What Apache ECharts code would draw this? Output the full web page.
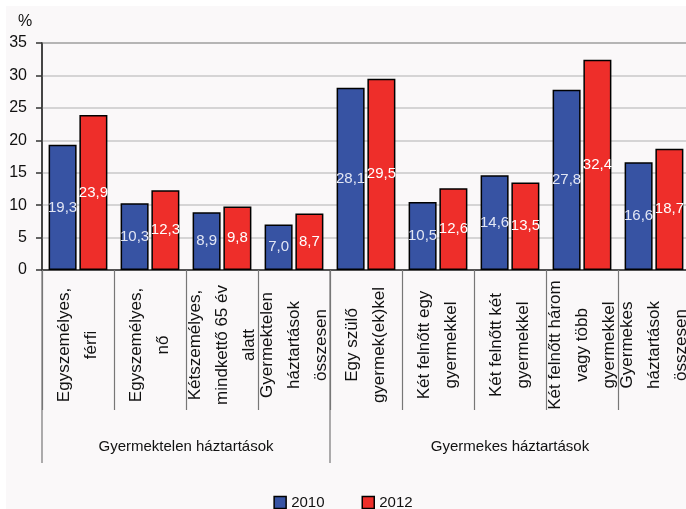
<!DOCTYPE html>
<html>
<head>
<meta charset="utf-8">
<script src="https://cdn.jsdelivr.net/npm/echarts@6/dist/echarts.min.js"></script>
<style>html,body{margin:0;padding:0;background:#fff;}#c{width:686px;height:509px;}</style>
</head>
<body>
<div id="c"></div>
<script>
var categories = [
  'Egyszemélyes,\nférfi',
  'Egyszemélyes,\nnő',
  'Kétszemélyes,\nmindkettő 65 év\nalatt',
  'Gyermektelen\nháztartások\nösszesen',
  'Egy szülő\ngyermek(ek)kel',
  'Két felnőtt egy\ngyermekkel',
  'Két felnőtt két\ngyermekkel',
  'Két felnőtt három\nvagy több\ngyermekkel',
  'Gyermekes\nháztartások\nösszesen'
];
var values2010 = [19.3, 10.3, 8.9, 7.0, 28.1, 10.5, 14.6, 27.8, 16.6];
var values2012 = [23.9, 12.3, 9.8, 8.7, 29.5, 12.6, 13.5, 32.4, 18.7];
var seriesNames = ['2010', '2012'];
var groups = [
  { name: 'Gyermektelen háztartások', from: 0, to: 4 },
  { name: 'Gyermekes háztartások', from: 4, to: 9 }
];
var yTicks = { min: 0, max: 35, interval: 5 };
var unitLabel = '%';

var FONT = "'Liberation Sans', Arial, sans-serif";
var BLUE = '#3753A3', RED = '#EE2E2A';

function fmt(p) { return p.value.toFixed(1).replace('.', ','); }

var chart = echarts.init(document.getElementById('c'), null, { renderer: 'canvas' });
var option = {
  backgroundColor: '#ffffff',
  animation: false,
  grid: { left: 42, top: 43, width: 648, height: 227, show: true, borderColor: '#555', borderWidth: 1.5, backgroundColor: 'transparent', outerBoundsMode: 'none', containLabel: false },
  legend: {
    data: seriesNames, left: 'center', top: 490, icon: 'rect', itemWidth: 12, itemHeight: 12, itemGap: 37,
    textStyle: { fontFamily: FONT, fontSize: 15, color: '#111' },
    itemStyle: { borderColor: '#000', borderWidth: 1.5 }
  },
  xAxis: {
    type: 'category', data: categories,
    axisLine: { show: true, lineStyle: { color: '#333', width: 1.5 } },
    axisTick: { show: true, interval: 0, length: 140, lineStyle: { color: '#777', width: 1.2 } },
    axisLabel: { interval: 0, rotate: 90, align: 'center', verticalAlign: 'middle', margin: 75, lineHeight: 27, fontSize: 17, fontFamily: FONT, color: '#111' },
    splitLine: { show: false }
  },
  yAxis: {
    type: 'value', min: yTicks.min, max: yTicks.max, interval: yTicks.interval,
    axisLine: { show: true, lineStyle: { color: '#333', width: 1.5 } },
    axisTick: { show: true, inside: false, length: 6, lineStyle: { color: '#333', width: 1.5 } },
    axisLabel: { margin: 15, fontSize: 16, fontFamily: FONT, color: '#111' },
    splitLine: { show: true, lineStyle: { color: '#c9c9c9', width: 1.5 } }
  },
  series: [
    { name: seriesNames[0], type: 'bar', data: values2010, barWidth: 28, barGap: '10%',
      itemStyle: { color: BLUE, borderColor: '#000', borderWidth: 1.5 },
      label: { show: true, position: 'inside', formatter: fmt, color: '#e2e6f4', fontSize: 15, fontFamily: FONT } },
    { name: seriesNames[1], type: 'bar', data: values2012, barWidth: 28, barGap: '10%',
      itemStyle: { color: RED, borderColor: '#000', borderWidth: 1.5 },
      label: { show: true, position: 'inside', formatter: fmt, color: '#ffffff', fontSize: 15, fontFamily: FONT } }
  ]
};
chart.setOption(option);

function boundaryX(i) {
  var c0 = chart.convertToPixel({ xAxisIndex: 0 }, 0);
  var c1 = chart.convertToPixel({ xAxisIndex: 0 }, 1);
  var band = c1 - c0;
  return c0 - band / 2 + band * i;
}
var y0 = chart.convertToPixel({ yAxisIndex: 0 }, 0);
var els = [
  { type: 'rect', z: -10, silent: true, shape: { x: 6, y: 6, width: 686, height: 509 }, style: { fill: '#faf8f9' } },
  { type: 'text', left: 18, top: 14, style: { text: unitLabel, fontSize: 16, fontFamily: FONT, fill: '#111' } }
];
groups.forEach(function (g) {
  var xa = boundaryX(g.from), xb = boundaryX(g.to);
  els.push({ type: 'line', silent: true, shape: { x1: xa, y1: y0, x2: xa, y2: 463 }, style: { stroke: '#777', lineWidth: 1.2 } });
  els.push({ type: 'text', silent: true, x: (xa + xb) / 2, y: 447,
    style: { text: g.name, fontSize: 15, fontFamily: FONT, fill: '#111', align: 'center', verticalAlign: 'middle' } });
});
chart.setOption({ graphic: els });
</script>
</body>
</html>
